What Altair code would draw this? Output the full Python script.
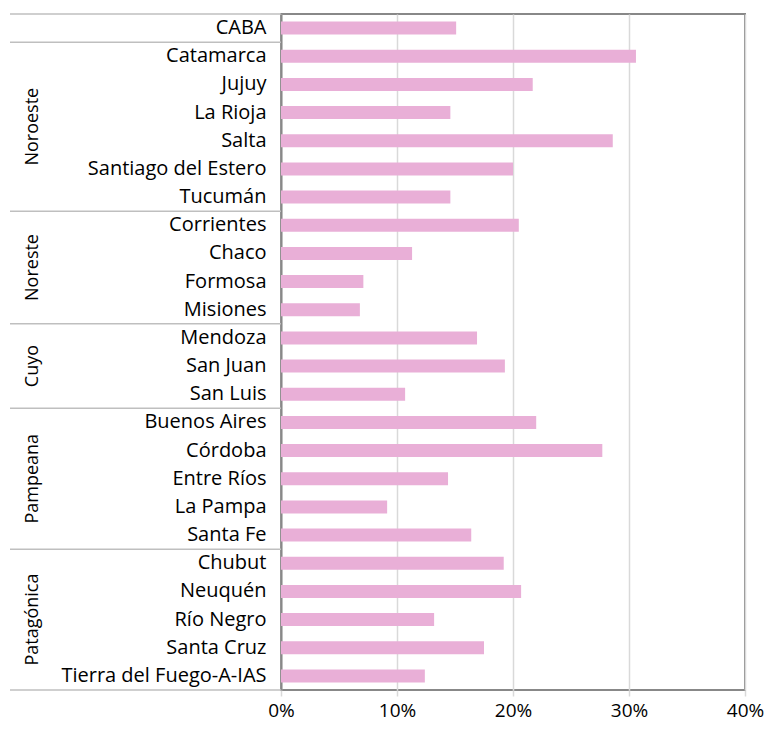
import altair as alt
import pandas as pd

provinces = ["CABA",
             "Catamarca", "Jujuy", "La Rioja", "Salta", "Santiago del Estero", "Tucumán",
             "Corrientes", "Chaco", "Formosa", "Misiones",
             "Mendoza", "San Juan", "San Luis",
             "Buenos Aires", "Córdoba", "Entre Ríos", "La Pampa", "Santa Fe",
             "Chubut", "Neuquén", "Río Negro", "Santa Cruz", "Tierra del Fuego-A-IAS"]
values = [15.1,
          30.6, 21.7, 14.6, 28.6, 20.0, 14.6,
          20.5, 11.3, 7.1, 6.8,
          16.9, 19.3, 10.7,
          22.0, 27.7, 14.4, 9.15, 16.4,
          19.2, 20.7, 13.2, 17.5, 12.4]
regions = ["", "Noroeste", "Noreste", "Cuyo", "Pampeana", "Patagónica"]
region_sizes = [1, 6, 4, 3, 5, 5]
x_ticks = [0, 10, 20, 30, 40]

FONT = "Open Sans"
FS = 20
W, H = 464, 676
LEFT = 273
bars_df = pd.DataFrame({"prov": provinces, "val": [v / 100 for v in values]})

bounds = [0]
for s in region_sizes:
    bounds.append(bounds[-1] + s)
sep_df = pd.DataFrame({"b": bounds})
lab_df = pd.DataFrame({
    "region": regions,
    "mid": [(bounds[i] + bounds[i + 1]) / 2 for i in range(len(regions))],
})
lab_df = lab_df[lab_df["region"] != ""]

qscale = alt.Scale(domain=[0, len(provinces)], reverse=True, nice=False)

bars = alt.Chart(bars_df).mark_bar(color="#E9AFD7").encode(
    x=alt.X("val:Q",
            scale=alt.Scale(domain=[0, 0.4], nice=False),
            axis=alt.Axis(values=[t / 100 for t in x_ticks], format=".0%", title=None,
                          grid=True, gridColor="#D9D9D9", gridWidth=1.5,
                          domain=False, tickColor="#D9D9D9", tickSize=6, tickWidth=1.5,
                          labelFlush=False,
                          labelFont=FONT, labelFontSize=19, labelColor="#000000",
                          labelPadding=5)),
    y=alt.Y("prov:N", sort=provinces,
            scale=alt.Scale(paddingInner=0.54, paddingOuter=0.27),
            axis=alt.Axis(title=None, ticks=False, domain=True, domainColor="#888888",
                          domainWidth=2, labelFont=FONT, labelFontSize=FS,
                          labelColor="#000000", labelPadding=15, labelLimit=300)),
)

seps = alt.Chart(sep_df).mark_rule(color="#BFBFBF", strokeWidth=1.5).encode(
    y=alt.Y("b:Q", scale=qscale, axis=None), x=alt.value(-(LEFT - 2)), x2=alt.value(0),
)

labels = alt.Chart(lab_df).mark_text(angle=270, font=FONT, fontSize=18, color="#000000",
                                     align="center", baseline="middle").encode(
    y=alt.Y("mid:Q", scale=qscale, axis=None),
    x=alt.value(-(LEFT - 25)),
    text="region:N",
)

chart = alt.layer(bars, seps, labels).resolve_scale(y="independent").properties(
    width=W, height=H,
    autosize=alt.AutoSizeParams(type="none"),
    padding={"left": LEFT, "top": 6, "right": 21, "bottom": 36},
).configure(background="white").configure_view(stroke="#888888", strokeWidth=2)

chart.save("out.html", embed_options={"renderer": "svg", "actions": False})
